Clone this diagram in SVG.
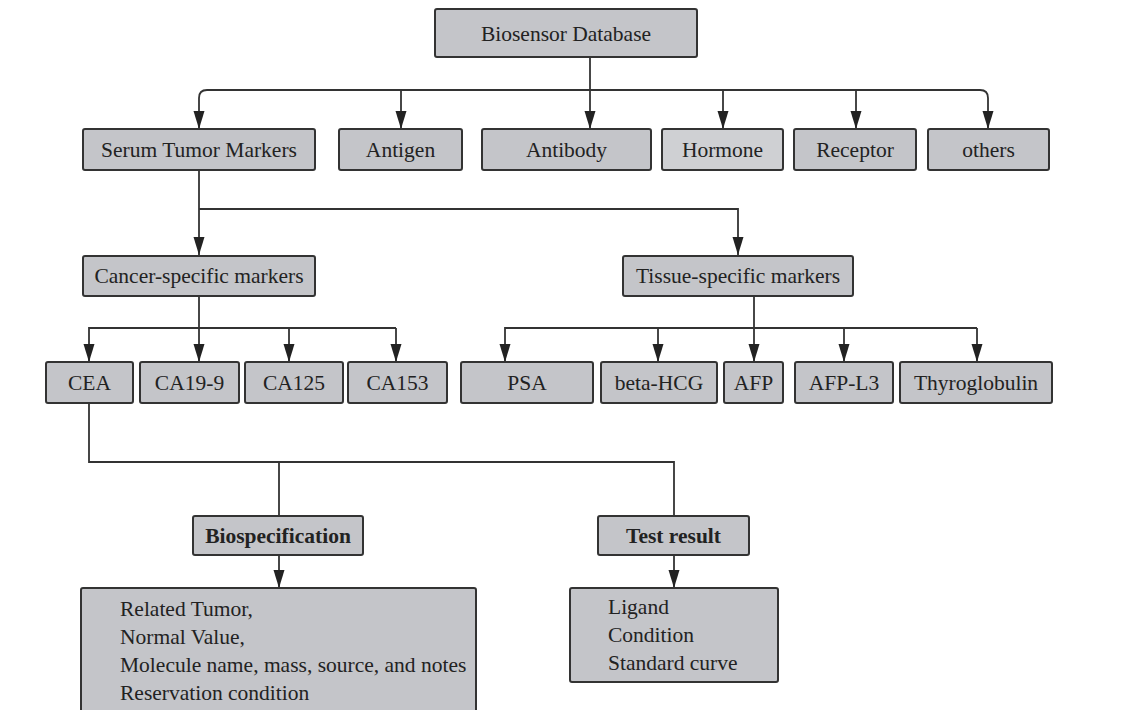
<svg xmlns="http://www.w3.org/2000/svg" width="1135" height="710" viewBox="0 0 1135 710">
<defs>
<marker id="ah" markerUnits="userSpaceOnUse" markerWidth="18" markerHeight="12" refX="18" refY="6" orient="auto">
<path d="M0,0.5 L18,6 L0,11.5 Z" fill="#222"/>
</marker>
<style>
.box{fill:#c4c5c9;stroke:#333;stroke-width:2}
.lt{fill:#cfd0d3}
.t{font-family:"Liberation Serif","Times New Roman",serif;font-size:21.5px;fill:#222;text-anchor:middle}
.l{text-anchor:start}
.b{font-weight:bold}
.c{fill:none;stroke:#333;stroke-width:1.8}
.a{marker-end:url(#ah)}
</style>
</defs>
<rect width="1135" height="710" fill="#fff"/>
<g id="connectors">
<path class="c a" d="M590,57 V129"/>
<path class="c" d="M207,90 H980"/>
<path class="c a" d="M207,90 Q199,90 199,98 V129"/>
<path class="c a" d="M980,90 Q988,90 988,98 V129"/>
<path class="c a" d="M401,90 V129"/>
<path class="c a" d="M723,90 V129"/>
<path class="c a" d="M856,90 V129"/>
<path class="c a" d="M199,170 V255"/>
<path class="c a" d="M199,209 H738 V255"/>
<path class="c a" d="M199,296 V362"/>
<path class="c a" d="M396,328 H89 V362"/>
<path class="c a" d="M289,328 V362"/>
<path class="c a" d="M396,328 V362"/>
<path class="c a" d="M754,296 V362"/>
<path class="c a" d="M977,328 H505 V362"/>
<path class="c a" d="M658,328 V362"/>
<path class="c a" d="M844,328 V362"/>
<path class="c a" d="M977,328 V362"/>
<path class="c" d="M89,403 V462 H674 V516"/>
<path class="c" d="M279,462 V516"/>
<path class="c a" d="M279,555 V588"/>
<path class="c a" d="M674,555 V588"/>
</g>
<g id="biosensor-database"><rect class="box" x="435" y="9" width="262" height="48" rx="2"/><text class="t" x="566" y="41">Biosensor Database</text></g>
<g id="serum-tumor-markers"><rect class="box" x="83" y="129" width="232" height="41" rx="2"/><text class="t" x="199" y="157">Serum Tumor Markers</text></g>
<g id="antigen"><rect class="box" x="339" y="129" width="123" height="41" rx="2"/><text class="t" x="400.5" y="157">Antigen</text></g>
<g id="antibody"><rect class="box" x="482" y="129" width="169" height="41" rx="2"/><text class="t" x="566.5" y="157">Antibody</text></g>
<g id="hormone"><rect class="box lt" x="662" y="129" width="121" height="41" rx="2"/><text class="t" x="722.5" y="157">Hormone</text></g>
<g id="receptor"><rect class="box" x="794" y="129" width="122" height="41" rx="2"/><text class="t" x="855" y="157">Receptor</text></g>
<g id="others"><rect class="box" x="928" y="129" width="121" height="41" rx="2"/><text class="t" x="988.5" y="157">others</text></g>
<g id="cancer-specific-markers"><rect class="box" x="83" y="256" width="232" height="40" rx="2"/><text class="t" x="199" y="283">Cancer-specific markers</text></g>
<g id="tissue-specific-markers"><rect class="box" x="623" y="256" width="230" height="40" rx="2"/><text class="t" x="738" y="283">Tissue-specific markers</text></g>
<g id="cea"><rect class="box" x="46" y="362" width="87" height="41" rx="2"/><text class="t" x="89.5" y="390">CEA</text></g>
<g id="ca19-9"><rect class="box" x="140" y="362" width="99" height="41" rx="2"/><text class="t" x="189.5" y="390">CA19-9</text></g>
<g id="ca125"><rect class="box" x="245" y="362" width="98" height="41" rx="2"/><text class="t" x="294" y="390">CA125</text></g>
<g id="ca153"><rect class="box" x="348" y="362" width="99" height="41" rx="2"/><text class="t" x="397.5" y="390">CA153</text></g>
<g id="psa"><rect class="box" x="461" y="362" width="132" height="41" rx="2"/><text class="t" x="527" y="390">PSA</text></g>
<g id="beta-hcg"><rect class="box" x="601" y="362" width="116" height="41" rx="2"/><text class="t" x="659" y="390">beta-HCG</text></g>
<g id="afp"><rect class="box" x="724" y="362" width="59" height="41" rx="2"/><text class="t" x="753.5" y="390">AFP</text></g>
<g id="afp-l3"><rect class="box" x="795" y="362" width="98" height="41" rx="2"/><text class="t" x="844" y="390">AFP-L3</text></g>
<g id="thyroglobulin"><rect class="box" x="900" y="362" width="152" height="41" rx="2"/><text class="t" x="976" y="390">Thyroglobulin</text></g>
<g id="biospecification"><rect class="box" x="193" y="516" width="170" height="39" rx="2"/><text class="t b" x="278" y="543">Biospecification</text></g>
<g id="test-result"><rect class="box" x="598" y="516" width="151" height="39" rx="2"/><text class="t b" x="673.5" y="543">Test result</text></g>
<g id="biospec-details"><rect class="box" x="81" y="588" width="395" height="130" rx="2"/>
<text class="t l" x="120" y="616">Related Tumor,</text>
<text class="t l" x="120" y="644">Normal Value,</text>
<text class="t l" x="120" y="672">Molecule name, mass, source, and notes</text>
<text class="t l" x="120" y="700">Reservation condition</text></g>
<g id="test-details"><rect class="box" x="570" y="588" width="208" height="94" rx="2"/>
<text class="t l" x="608" y="614">Ligand</text>
<text class="t l" x="608" y="642">Condition</text>
<text class="t l" x="608" y="670">Standard curve</text></g>
</svg>
